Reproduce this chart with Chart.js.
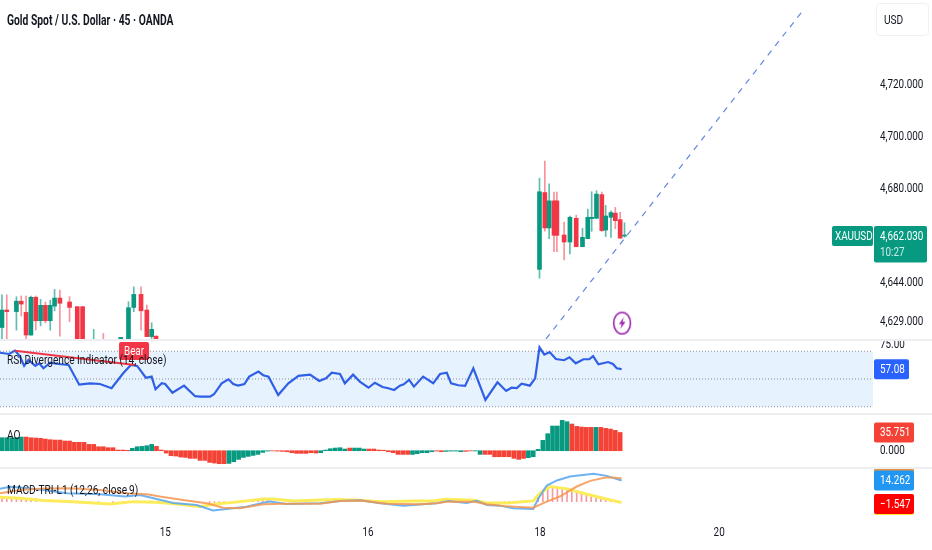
<!DOCTYPE html>
<html>
<head>
<meta charset="utf-8">
<script src="https://cdn.jsdelivr.net/npm/chart.js@4"></script>
<style>
  html, body { margin: 0; padding: 0; background: #fff; }
  #page { position: relative; width: 932px; height: 550px; overflow: hidden; font-family: Roboto, sans-serif; color: #131722; }
  .pane { position: absolute; left: 0; width: 932px; }
  .pane canvas { display: block; }
  .sep { position: absolute; left: 0; width: 932px; height: 2px; background: #eceef1; }
  .txt { position: absolute; white-space: nowrap; font-size: 13px; line-height: 16px; transform: scaleX(.78); transform-origin: left center; }
  #title { left: 7px; top: 12px; font-weight: 700; font-size: 14px; transform: scaleX(.737); }
  #usdBox { position: absolute; left: 876px; top: 3px; width: 53px; height: 33px; box-sizing: border-box; border: 1px solid #f0f1f3; border-radius: 4px; }
</style>
</head>
<body>
<div id="page">
  <div class="pane" style="top:0;height:340px"><canvas id="priceChart" width="932" height="340"></canvas></div>
  <div class="pane" style="top:340px;height:74px"><canvas id="rsiChart" width="932" height="74"></canvas></div>
  <div class="pane" style="top:414px;height:54px"><canvas id="aoChart" width="932" height="54"></canvas></div>
  <div class="pane" style="top:468px;height:82px"><canvas id="macdChart" width="932" height="82"></canvas></div>
  <div class="sep" style="top:339px"></div>
  <div class="sep" style="top:413px"></div>
  <div class="sep" style="top:467px"></div>
  <div class="txt" id="title">Gold Spot / U.S. Dollar · 45 · OANDA</div>
  <div id="usdBox"></div>
  <div class="txt" style="left:884px;top:12px">USD</div>
  <div class="txt" style="left:7px;top:352px">RSI Divergence Indicator (14, close)</div>
  <div class="txt" style="left:7px;top:427px">AO</div>
  <div class="txt" style="left:7px;top:482px">MACD-TRI-L1 (12,26, close,9)</div>
</div>
<script>
// candles, bar number = position on the time axis
const candleBars = [0, 1, 3, 4, 5, 6, 7, 8, 9, 10, 10.9, 12, 14, 15.6, 16.7, 19, 21, 24.6, 26.2, 27.3, 28.8, 30, 31, 31.9,
  111.3, 112.4, 113.3, 114.3, 114.9, 116.4, 117.6, 118.9, 120.2, 121.3, 122.1, 123.1, 124.2, 125, 126.1, 127, 128, 128.9];
const candleOpen = [4626.9, 4633.6, 4633, 4637, 4632.7, 4624, 4638.5, 4629.5, 4635.4, 4629.5, 4635.1, 4638.2, 4636.7, 4634.9, 4634.9, 4612, 4618, 4618, 4612, 4634.6, 4639.6, 4633.6, 4623.4, 4623.6,
  4649.2, 4678.7, 4665.1, 4675.5, 4675.5, 4662.4, 4659.7, 4668.8, 4657.9, 4661, 4668.7, 4668.8, 4677.9, 4664.3, 4669.2, 4670.8, 4668.3, 4662];
const candleHigh = [4639.4, 4639.4, 4638.7, 4639, 4639, 4639, 4639, 4637.7, 4636.7, 4637.4, 4641.5, 4641.3, 4638.7, 4634.9, 4634.9, 4626.2, 4624.6, 4623.1, 4636.8, 4642.5, 4642.5, 4635.5, 4628.7, 4623.6,
  4684.2, 4690.8, 4682, 4678.9, 4678.9, 4667.4, 4669.7, 4670, 4665, 4672.3, 4679, 4679.4, 4678.9, 4673.8, 4671.7, 4673, 4671.1, 4667.1];
const candleLow = [4622, 4622.1, 4625.9, 4631.3, 4622.3, 4624, 4625.9, 4627.5, 4628.7, 4625.9, 4633.3, 4623.6, 4629.1, 4618, 4618, 4610, 4612, 4616, 4610, 4633, 4625.9, 4623.4, 4622.7, 4620,
  4645.8, 4663.9, 4661, 4656, 4656, 4652.8, 4655.1, 4657.9, 4657.9, 4661, 4663.8, 4668.8, 4663.8, 4661.8, 4661.5, 4664.8, 4661.2, 4661.5];
const candleClose = [4633.6, 4633, 4637, 4635.9, 4624, 4638.5, 4629.5, 4635.4, 4629.5, 4635.4, 4638.2, 4636.2, 4634.6, 4620, 4620, 4616, 4614, 4623.1, 4634.5, 4639.6, 4633.3, 4623.4, 4626.2, 4620,
  4679, 4665.1, 4675.5, 4662.3, 4662.3, 4659.7, 4669.2, 4657.9, 4661.5, 4669.2, 4669.2, 4678.1, 4664.1, 4669.7, 4671, 4667.9, 4661.2, 4662.03];

// hand drawn trend line and the event marker
const trendBars = [112.65, 166.1];
const trendPrices = [4622.5, 4749.2];
const markerBar = [128.4];
const markerPrice = [4628.6];
const lastPrice = 4662.03;
const lastPriceLabel = '4,662.030';
const countdownLabel = '10:27';
const priceTicks = [4720, 4700, 4680, 4644, 4629];

// rsi pane
const rsiBars = [-0.4, 1.5, 2.7, 3.7, 4.6, 5.5, 6.9, 7.7, 8.6, 10, 11.7, 13.8, 16, 18.2, 20.3, 22.7, 25.1, 26.7, 28, 29.8, 31, 31.8, 33.1, 33.8, 35.3, 37.7, 40, 41,
  43.1, 43.9, 45.5, 46.9, 47.9, 48.9, 50.2, 51.2, 53.1, 54.1, 55.2, 57.2, 59.3, 61.4, 63.8, 65.7, 67.1, 68.3, 70, 71, 72.7, 74.1, 75.9, 77.2, 78.8, 80, 81.2, 82.4, 83.2, 84.3, 85.3, 87.2, 89.3, 90.7,
  92.1, 93, 94.5, 95.9, 97.6, 100.1, 102.6, 104.4, 105.5, 106.6, 107.6, 109.3, 110.4, 111.3, 112.3, 113.4, 114.7, 116.4, 117.5, 118.8, 120.4, 121.6, 122.4, 123.5, 125.5, 126.5, 127.3, 128.3];
const rsiValues = [68.9, 68, 70.4, 66.5, 59.4, 63.7, 59.4, 61.3, 57.7, 61.7, 60.8, 60.1, 45.9, 46.9, 46.4, 43.3, 54.1, 60.1, 59.4, 50.9, 51.7, 42.6, 46.9, 46.4, 40.1, 45.2, 37.6, 37.3,
  37.3, 39, 46.9, 49.8, 46.4, 45.2, 46.4, 51.7, 55.3, 52.7, 51.7, 38.5, 46.9, 52.2, 53.1, 48.6, 50.5, 54.5, 53.6, 46.9, 53.1, 48.1, 43.7, 47.3, 44.2, 43.3, 42.1, 45.2, 46.2, 49.3, 44.5, 51.7, 46.9, 53.6,
  54.5, 46.9, 45.5, 45, 57.7, 34.9, 47.6, 41.4, 43.7, 43.5, 46.6, 45.2, 50.5, 72.8, 67.5, 69.4, 64.4, 63.5, 65.6, 61.3, 64.2, 64.2, 66.5, 60.6, 62.2, 60.8, 57.7, 57.08];
const rsiLevels = [70, 50, 30];
const rsiTicks = [75];
const rsiLast = 57.08;
const bearBars = [2.7, 27.55];
const bearValues = [70.4, 60.1];
const bearLabelBar = 27.35;
const bearLabelValue = 70.1;

// awesome oscillator, one value per bar from bar 0
const aoValues = [25.5, 25.5, 25.5, 25.5, 26.8, 26.8, 25.5, 24.9, 24.2, 22.9, 21.6, 20.9, 20.9, 19, 19, 16.4, 16.4, 16.4, 12.4, 12.4, 7.8, 7.8, 5.9, 5.9, 1.3, 1.3, 0.7,
  4.6, 7.8, 8.5, 9.8, 12.4, 8.5, 1.3, -4.6, -9.8, -10.5, -12.4, -13.1, -15, -15, -19, -19, -22.9, -24.2, -25.5, -25.5, -24.9, -21.6, -17, -13.1, -11.1, -9.2, -7.2, -3.3, -0.7, -0.3,
  -0.7, -1.3, -2, -3.9, -5.2, -5.2, -5.2, -3.9, -4.6, -3.9, 1.3, 3.9, 5.2, 5.9, 3.3, 5.2, 5.2, 5.2, 3.3, 3.3, 3.3, 1.3, 1, -2, -3.9, -7.2, -7.2, -7.2, -7.2, -5.9, -3.9, -3.9, -2, -0.7,
  -2, -1.3, -0.7, -0.7, -2, -1.3, -0.4, -0.5, -7.2, -7.2, -7.2, -11.8, -11.8, -11.8, -11.8, -15, -17, -15, -13.7, -11.8, 2.6, 20.3, 33.4, 48.4, 48.4, 59.5,
  56.9, 52.3, 47.7, 46.4, 45.8, 45.8, 45.8, 45.8, 43.8, 42.5, 39.9, 35.751];
const aoRising = 'GGGGG' + 'RRRRRRRRRRRRRRRRRRRRRR' + 'GGGGG' + 'RRRRRRRRRRRRRRR' + 'GGGGGGGGG' + 'RRRRRRRRRR' +
  'GGGGGG' + 'R' + 'GGG' + 'RRRRRRRRR' + 'GGGGG' + 'RR' + 'GGGG' + 'RR' + 'GG' + 'RRRRRRRRR' + 'GGGGGGGGG' + 'RRRRR' + 'G' + 'RRRRRR';
const aoTicks = [0];
const aoLast = 35.751;

// macd pane
const macdBlueBars = [-0.4, 1.7, 3.7, 8.6, 13.4, 20.3, 25.5, 28.6, 32, 35.5, 40.3, 43.7, 46.5, 50.6, 54.1, 55.5, 58.9, 65.9, 70, 74.2, 78.3, 83.1, 90, 92.5, 96.2, 98.3, 100.4, 103.1, 105.9, 110, 111.1, 112.8, 114.9, 117.6, 122.5, 125.2, 128.3];
const macdBlue = [8.6, 10, 9.5, 7.9, 5.7, 5, 3.4, 4.5, 1.8, -0.9, -2.3, -5.9, -5, -3.4, -0.7, 0, -1.6, -1.1, 0.5, 0.9, -1.1, -2.7, -1.1, 0.5, -0.9, 0.5, -2.3, -2.7, -4.5, -5, 2.3, 10.9, 14.3, 17, 18.8, 17.4, 14.262];
const macdOrangeBars = [-0.4, 3.7, 8.6, 14.1, 20.3, 25.8, 30, 32.7, 37.5, 42.4, 45.8, 49.3, 54.1, 58.2, 65.9, 70, 74.2, 79.7, 86.6, 90, 92.5, 97.6, 100.4, 104.5, 110, 112.8, 115.6, 119, 121.8, 125.2, 128.3];
const macdOrange = [5.7, 7.9, 8.8, 9.1, 7.9, 5.7, 5, 3.4, 1.1, -1.1, -4.1, -4.5, -1.8, -1.4, -1.4, 0.5, 0.7, -1.4, -1.8, -1.1, 0, 0, -1.8, -3.2, -4.1, 0, 3.6, 10.2, 14, 16.5, 15.8];
const macdYellowBars = [-0.4, 3.7, 8.6, 14.8, 22.4, 27.2, 32, 36.8, 41, 43.7, 47.9, 54.1, 56.2, 60.3, 65.9, 70, 74.2, 78.3, 85.2, 89.4, 91.8, 97.6, 100.4, 104.5, 110, 111.4, 113.5, 117, 121.1, 124.5, 128.3];
const macdYellow = [2.9, 2.3, 0.7, 0, -1.6, 0, -0.5, -1.8, -3.4, -1.8, -0.5, 1.8, 1.8, 0.5, 1.1, 1.4, 0.9, 0, 0.5, 0.5, 1.6, 0.9, -0.9, -0.9, 0.5, 5.7, 10.2, 8.6, 5, 2.3, -0.7];
const macdHistBars = [0, 1, 2, 3, 4, 5, 6, 7, 16, 18, 20, 23, 25, 27, 32, 43, 44, 45, 46, 52, 53, 54, 55, 104, 105, 106, 107, 108, 109, 111, 112, 113, 114, 115, 116, 117, 118, 119, 120, 121, 122, 123, 124, 125, 126, 127, 128];
const macdHist = [2.9, 2.8, 2.6, 2.5, 2.4, 2.3, 2.1, 1.8, -0.9, -1.2, -1.5, -2, -1.2, -0.3, -0.8, -2.2, -2, -1.6, -1.2, 1.4, 1.7, 1.9, 1.8, -0.6, -0.5, -0.4, -0.3, -0.2, 0.3, 4, 8, 10, 10, 9.7, 9, 8.6, 7.8, 7, 6, 5, 4.4, 3.8, 2.8, 2, 1.3, 0.5, -0.5];
const macdBlueLast = 14.262;
const macdOrangeLast = 15.85;
const macdHistLast = -1.547;
const macdYellowLast = -2.2;

// day labels on the time axis
const dayBars = [33.8, 75.8, 111.4, 148.5];
const dayLabels = ['15', '16', '18', '20'];

const GREEN = '#089981';
const RED = '#f23645';
const TEXT_FONT = '13px Roboto, sans-serif';
const NARROW = 0.76;
const X_MIN = -0.4;
const X_MAX = 180.35;

const pts = (xs, ys) => xs.map((x, i) => ({ x: x, y: ys[i] }));

// the reference uses a condensed face, no such font here so squeeze Roboto
function narrowText(c, text, x, y, align) {
  c.save();
  c.font = TEXT_FONT;
  c.textBaseline = 'middle';
  c.textAlign = align || 'left';
  c.translate(x, y);
  c.scale(NARROW, 1);
  c.fillText(text, 0, 0);
  c.restore();
}

function xAxis(show) {
  return {
    type: 'linear', display: show, offset: false, min: X_MIN, max: X_MAX,
    grid: { display: false, drawTicks: false }, border: { display: false },
    afterBuildTicks: s => { s.ticks = dayBars.map(v => ({ value: v })); },
    afterFit: s => { if (show) s.height = 30; },
    ticks: { display: false, autoSkip: false, maxRotation: 0, callback: (v, i) => dayLabels[i] },
  };
}

function yAxis(min, max, tickValues, label) {
  return {
    type: 'linear', position: 'right', min: min, max: max,
    grid: { display: false, drawTicks: false }, border: { display: false },
    afterBuildTicks: s => { s.ticks = tickValues.map(v => ({ value: v })); },
    afterFit: s => { s.width = 59; },
    ticks: { display: false, callback: label },
  };
}

// draws the labels the scales generated, in the squeezed face
const axisLabelPlugin = {
  id: 'axisLabels',
  afterDatasetsDraw(chart) {
    const c = chart.ctx;
    c.fillStyle = '#131722';
    chart.scales.y.ticks.forEach((t, i) => {
      narrowText(c, t.label, chart.chartArea.right + 7, chart.scales.y.getPixelForTick(i));
    });
    if (chart.scales.x.options.display) {
      chart.scales.x.ticks.forEach((t, i) => {
        narrowText(c, t.label, chart.scales.x.getPixelForTick(i), chart.chartArea.bottom + 13, 'center');
      });
    }
  },
};

// value tags on the price scale
function tagPlugin(tags) {
  return {
    id: 'tags',
    afterDraw(chart) {
      const c = chart.ctx;
      const y = chart.scales.y;
      tags.forEach(t => {
        const py = y.getPixelForValue(t.value);
        const pad = t.pad || 6;
        c.fillStyle = t.color;
        c.beginPath();
        c.roundRect(t.x, py - 10, t.width, t.height || 20, 2);
        c.fill();
        c.fillStyle = '#fff';
        if (t.text) narrowText(c, t.text, t.x + pad, py + 0.5);
        if (t.sub) {
          c.fillStyle = 'rgba(255,255,255,.8)';
          narrowText(c, t.sub, t.x + pad, py + 17);
        }
      });
    },
  };
}

const bearPlugin = {
  id: 'bear',
  afterDatasetsDraw(chart) {
    const c = chart.ctx;
    const px = chart.scales.x.getPixelForValue(bearLabelBar);
    const py = chart.scales.y.getPixelForValue(bearLabelValue);
    c.fillStyle = RED;
    c.beginPath();
    c.roundRect(px - 15, py - 9, 30, 18, 2);
    c.fill();
    c.fillStyle = '#fff';
    narrowText(c, 'Bear', px, py + 0.5, 'center');
  },
};

// purple ring with a bolt for the event marker
function boltIcon() {
  const cv = document.createElement('canvas');
  cv.width = 20;
  cv.height = 25;
  const c = cv.getContext('2d');
  c.strokeStyle = '#9c27b0';
  c.lineWidth = 1.6;
  c.beginPath();
  c.ellipse(10, 12.5, 8.4, 10.8, 0, 0, Math.PI * 2);
  c.stroke();
  c.fillStyle = '#9c27b0';
  c.beginPath();
  c.moveTo(11.8, 6.5); c.lineTo(6.8, 13.6); c.lineTo(9.6, 13.6); c.lineTo(8.2, 18.5);
  c.lineTo(13.4, 11.2); c.lineTo(10.5, 11.2);
  c.closePath();
  c.fill();
  return cv;
}

const paneOptions = (xShow, yScale) => ({
  responsive: false, animation: false, layout: { padding: 0, autoPadding: false },
  plugins: { legend: { display: false }, tooltip: { enabled: false } },
  scales: { x: xAxis(xShow), y: yScale },
});

const candleColor = candleBars.map((b, i) => candleClose[i] >= candleOpen[i] ? GREEN : RED);
const wickColor = candleBars.map((b, i) => candleClose[i] >= candleOpen[i] ? 'rgba(8,153,129,.65)' : 'rgba(242,54,69,.55)');

new Chart(document.getElementById('priceChart'), {
  type: 'bar',
  data: {
    datasets: [
      { type: 'line', data: pts(markerBar, markerPrice), showLine: false, pointStyle: boltIcon(), pointRadius: 10, order: 0 },
      { type: 'line', data: pts(trendBars, trendPrices), borderColor: '#6486e0', borderWidth: 1.2, borderDash: [6, 6], pointRadius: 0, order: 1 },
      { data: pts(candleBars, candleBars.map((b, i) => [candleOpen[i], candleClose[i]])), backgroundColor: candleColor, barThickness: 4, minBarLength: 1, grouped: false, order: 2 },
      { data: pts(candleBars, candleBars.map((b, i) => [candleLow[i], candleHigh[i]])), backgroundColor: wickColor, barThickness: 1, grouped: false, order: 3 },
    ],
  },
  options: paneOptions(false, yAxis(4622.1, 4752.6, priceTicks, v => v.toLocaleString('en-US', { minimumFractionDigits: 3 }))),
  plugins: [axisLabelPlugin, tagPlugin([
    { value: lastPrice, x: 832, width: 41, color: GREEN, text: 'XAUUSD', pad: 3 },
    { value: lastPrice, x: 874, width: 53, height: 36.5, color: GREEN, text: lastPriceLabel, sub: countdownLabel },
  ])],
});

const levelEnds = [X_MIN, X_MAX];
new Chart(document.getElementById('rsiChart'), {
  type: 'bar',
  data: {
    datasets: [
      { type: 'line', data: pts(bearBars, bearValues), borderColor: RED, borderWidth: 2, pointRadius: 0, order: 0 },
      { type: 'line', data: pts(rsiBars, rsiValues), borderColor: '#2f5fe6', borderWidth: 2.2, pointRadius: 0, order: 1 },
      ...rsiLevels.map(v => ({
        type: 'line', data: pts(levelEnds, levelEnds.map(() => v)), borderColor: '#8a8f99', borderWidth: 1, borderDash: [1, 2], pointRadius: 0, order: 2,
      })),
      { type: 'line', data: pts(levelEnds, levelEnds.map(() => rsiLevels[0])), borderWidth: 0, pointRadius: 0, fill: { value: rsiLevels[2] }, backgroundColor: '#e6f2fd', order: 3 },
    ],
  },
  options: paneOptions(false, yAxis(24.8, 78.06, rsiTicks, v => v.toFixed(2))),
  plugins: [axisLabelPlugin, bearPlugin, tagPlugin([{ value: rsiLast, x: 874, width: 35, color: '#2962ff', text: rsiLast.toFixed(2) }])],
});

new Chart(document.getElementById('aoChart'), {
  type: 'bar',
  data: {
    datasets: [{
      data: pts(aoValues.map((v, i) => i), aoValues),
      backgroundColor: aoValues.map((v, i) => aoRising[i] === 'G' ? GREEN : '#f44336'),
      barThickness: 4,
    }],
  },
  options: paneOptions(false, yAxis(-33.9, 72, aoTicks, v => v.toFixed(3))),
  plugins: [axisLabelPlugin, tagPlugin([{ value: aoLast, x: 874, width: 40, color: '#f44336', text: aoLast.toFixed(3) }])],
});

new Chart(document.getElementById('macdChart'), {
  type: 'bar',
  data: {
    datasets: [
      { type: 'line', data: pts(macdOrangeBars, macdOrange), borderColor: 'rgba(245,150,80,.85)', borderWidth: 2, pointRadius: 0, order: 0 },
      { type: 'line', data: pts(macdBlueBars, macdBlue), borderColor: 'rgba(85,165,240,.85)', borderWidth: 2, pointRadius: 0, order: 1 },
      { type: 'line', data: pts(macdYellowBars, macdYellow), borderColor: '#fdec5a', borderWidth: 3, pointRadius: 0, order: 2 },
      { data: pts(macdHistBars, macdHist), backgroundColor: '#f59aa0', barThickness: 1, order: 3 },
    ],
  },
  options: paneOptions(true, yAxis(-12.4, 22.7, [], v => v)),
  plugins: [axisLabelPlugin, tagPlugin([
    { value: macdOrangeLast, x: 874, width: 40, color: '#e8933f' },
    { value: macdBlueLast, x: 874, width: 40, color: '#2196f3', text: macdBlueLast.toFixed(3) },
    { value: macdYellowLast, x: 874, width: 40, color: '#ffeb3b' },
    { value: macdHistLast, x: 874, width: 40, color: '#ff0000', text: '\u2212' + Math.abs(macdHistLast).toFixed(3) },
  ])],
});
</script>
</body>
</html>
